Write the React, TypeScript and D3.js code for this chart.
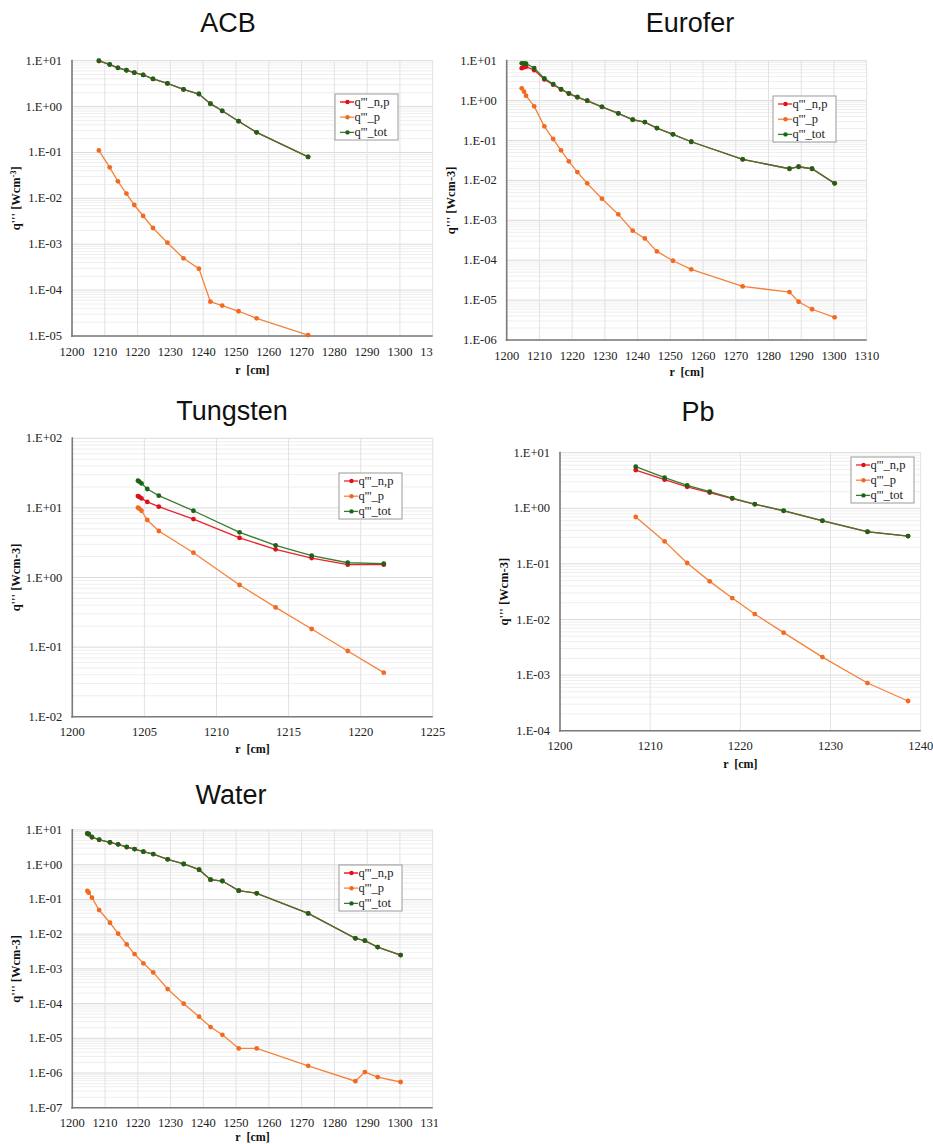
import React from "react";
import * as d3 from "d3";

// ---------------- DATA ----------------
// ACB
const acbR = [1208.2, 1211.5, 1214.0, 1216.6, 1219.0, 1221.7, 1224.7, 1229.1, 1234.0, 1238.7, 1242.2, 1245.8, 1250.8, 1256.3, 1272.0];
const acbNP = [9.85, 8.25, 6.98, 6.19, 5.49, 4.9, 4.0, 3.2, 2.37, 1.88, 1.16, 0.81, 0.48, 0.275, 0.08];
const acbP = [0.111, 0.0474, 0.0235, 0.0127, 0.00716, 0.00413, 0.00226, 0.00108, 0.000494, 0.000294, 5.6e-5, 4.6e-5, 3.46e-5, 2.43e-5, 1.05e-5];
const acbTot = [10.0, 8.3, 7.0, 6.2, 5.5, 4.9, 4.0, 3.2, 2.37, 1.88, 1.16, 0.81, 0.48, 0.275, 0.08];

// Eurofer
const eurR = [1204.6, 1205.3, 1205.9, 1208.4, 1211.5, 1214.2, 1216.6, 1219.0, 1221.6, 1224.6, 1229.1, 1234.1, 1238.5, 1242.2, 1245.9, 1250.8, 1256.4, 1272.1, 1286.4, 1289.2, 1293.3, 1300.2];
const eurNP = [6.5, 6.9, 7.1, 5.8, 3.4, 2.5, 1.9, 1.49, 1.21, 0.99, 0.7, 0.478, 0.331, 0.29, 0.205, 0.143, 0.093, 0.0337, 0.0196, 0.022, 0.0196, 0.00843];
const eurP = [2.03, 1.67, 1.33, 0.717, 0.226, 0.109, 0.0566, 0.03, 0.0162, 0.00843, 0.00348, 0.00141, 0.000548, 0.000352, 0.000166, 9.7e-5, 5.9e-5, 2.2e-5, 1.59e-5, 9.1e-6, 5.9e-6, 3.7e-6];
const eurTot = [8.6, 8.6, 8.4, 6.55, 3.6, 2.6, 1.95, 1.52, 1.23, 1.0, 0.7, 0.479, 0.332, 0.29, 0.205, 0.143, 0.093, 0.0337, 0.0196, 0.022, 0.0196, 0.00843];

// Tungsten
const tunR = [1204.55, 1204.65, 1204.8, 1205.2, 1206.0, 1208.4, 1211.6, 1214.1, 1216.6, 1219.1, 1221.6];
const tunNP = [14.8, 14.4, 13.7, 12.2, 10.4, 6.9, 3.7, 2.54, 1.9, 1.53, 1.53];
const tunP = [10.1, 9.76, 9.1, 6.7, 4.66, 2.27, 0.78, 0.372, 0.182, 0.0879, 0.0429];
const tunTot = [24.6, 23.8, 22.5, 18.7, 15.0, 9.1, 4.46, 2.9, 2.06, 1.63, 1.58];

// Pb
const pbR = [1208.4, 1211.6, 1214.1, 1216.6, 1219.1, 1221.6, 1224.8, 1229.1, 1234.1, 1238.6];
const pbNP = [4.88, 3.27, 2.44, 1.92, 1.5, 1.18, 0.9, 0.596, 0.378, 0.317];
const pbP = [0.697, 0.254, 0.1037, 0.0485, 0.0243, 0.01254, 0.0058, 0.00211, 0.00072, 0.000342];
const pbTot = [5.6, 3.55, 2.59, 1.99, 1.53, 1.19, 0.906, 0.598, 0.379, 0.317];

// Water
const watR = [1204.6, 1205.0, 1206.0, 1208.2, 1211.5, 1214.0, 1216.6, 1219.0, 1221.7, 1224.7, 1229.1, 1234.0, 1238.7, 1242.2, 1245.8, 1250.8, 1256.3, 1272.0, 1286.4, 1289.3, 1293.2, 1300.2];
const watNP = [7.8, 7.5, 6.17, 5.21, 4.39, 3.86, 3.23, 2.83, 2.38, 2.03, 1.43, 1.05, 0.72, 0.371, 0.339, 0.179, 0.15, 0.0396, 0.00755, 0.00647, 0.00425, 0.0025];
const watP = [0.175, 0.156, 0.112, 0.0495, 0.0213, 0.0103, 0.00507, 0.00267, 0.00144, 0.00079, 0.000262, 9.9e-5, 4.18e-5, 2.1e-5, 1.26e-5, 5.1e-6, 5.1e-6, 1.61e-6, 5.8e-7, 1.06e-6, 7.6e-7, 5.5e-7];
const watTot = [8.0, 7.67, 6.28, 5.26, 4.41, 3.87, 3.24, 2.83, 2.38, 2.03, 1.43, 1.05, 0.72, 0.371, 0.339, 0.179, 0.15, 0.0396, 0.00755, 0.00647, 0.00425, 0.0025];

const seriesNames = ["q'''_n,p", "q'''_p", "q'''_tot"];
const titles = ["ACB", "Eurofer", "Tungsten", "Pb", "Water"];

// ---------------- STYLE / LAYOUT ----------------
const lineColors = ["#e8222a", "#f5823a", "#3a7a30"];
const markerColors = ["#e01018", "#f26a22", "#1a6418"];
const serif = "'Liberation Serif', 'Times New Roman', serif";
const sans = "'Liberation Sans', Arial, sans-serif";

type Panel = {
  title: string;
  r: number[];
  np: number[];
  p: number[];
  tot: number[];
  left: number; top: number; right: number; bottom: number;
  xMin: number; xMax: number; xStep: number;
  eMin: number; eMax: number;
  legX: number; legY: number;
  titleX: number; titleY: number;
  sup: boolean;
  xTitleDy: number;
  clipX?: number;
};

const panels: Panel[] = [
  { title: titles[0], r: acbR, np: acbNP, p: acbP, tot: acbTot, left: 72, top: 60.7, right: 432.7, bottom: 336,
    xMin: 1200, xMax: 1310, xStep: 10, eMin: -5, eMax: 1, legX: 335, legY: 94, titleX: 228, titleY: 31.5, sup: true, xTitleDy: 37.5, clipX: 434 },
  { title: titles[1], r: eurR, np: eurNP, p: eurP, tot: eurTot, left: 506.7, top: 60.7, right: 866.7, bottom: 340,
    xMin: 1200, xMax: 1310, xStep: 10, eMin: -6, eMax: 1, legX: 773, legY: 96, titleX: 690, titleY: 31.5, sup: false, xTitleDy: 36 },
  { title: titles[2], r: tunR, np: tunNP, p: tunP, tot: tunTot, left: 72.3, top: 438.3, right: 432.8, bottom: 716.7,
    xMin: 1200, xMax: 1225, xStep: 5, eMin: -2, eMax: 2, legX: 339, legY: 473, titleX: 232, titleY: 420, sup: false, xTitleDy: 36 },
  { title: titles[3], r: pbR, np: pbNP, p: pbP, tot: pbTot, left: 560, top: 452.7, right: 920.7, bottom: 730.7,
    xMin: 1200, xMax: 1240, xStep: 10, eMin: -4, eMax: 1, legX: 851, legY: 457, titleX: 698, titleY: 421, sup: false, xTitleDy: 37 },
  { title: titles[4], r: watR, np: watNP, p: watP, tot: watTot, left: 72.3, top: 830, right: 432.7, bottom: 1107.7,
    xMin: 1200, xMax: 1310, xStep: 10, eMin: -7, eMax: 1, legX: 339, legY: 865, titleX: 231, titleY: 804, sup: false, xTitleDy: 33.5, clipX: 438 },
];

function fmtExp(e: number) {
  const s = String(Math.abs(e)).padStart(2, "0");
  return `1.E${e < 0 ? "-" : "+"}${s}`;
}

function PanelView({ pn, idx }: { pn: Panel; idx: number }) {
  const x = d3.scaleLinear().domain([pn.xMin, pn.xMax]).range([pn.left, pn.right]);
  const y = d3.scaleLog().domain([Math.pow(10, pn.eMin), Math.pow(10, pn.eMax)]).range([pn.bottom, pn.top]);
  const xTicks = d3.range(pn.xMin, pn.xMax + 0.001, pn.xStep);
  const decades = d3.range(pn.eMin, pn.eMax + 1);
  const minors: number[] = [];
  for (let e = pn.eMin; e < pn.eMax; e++) {
    for (let k = 2; k <= 9; k++) minors.push(k * Math.pow(10, e));
  }
  const line = d3.line<[number, number]>().x((d) => x(d[0])).y((d) => y(d[1]));
  const series = [pn.np, pn.p, pn.tot];
  const clipId = `clip${idx}`;
  const midY = (pn.top + pn.bottom) / 2;
  const midX = (pn.left + pn.right) / 2;
  return (
    <g clipPath={pn.clipX ? `url(#${clipId})` : undefined}>
      {pn.clipX && (
        <defs>
          <clipPath id={clipId}>
            <rect x={0} y={pn.top - 60} width={pn.clipX} height={pn.bottom - pn.top + 120} />
          </clipPath>
        </defs>
      )}
      <text x={pn.titleX} y={pn.titleY} textAnchor="middle" fontFamily={sans} fontSize={27} fill="#111">
        {pn.title}
      </text>
      {/* minor grid */}
      {minors.map((v, i) => (
        <line key={"m" + i} x1={pn.left} x2={pn.right} y1={y(v)} y2={y(v)} stroke="#efefef" strokeWidth={1} />
      ))}
      {decades.map((e) => (
        <line key={"d" + e} x1={pn.left} x2={pn.right} y1={y(Math.pow(10, e))} y2={y(Math.pow(10, e))} stroke="#dadada" strokeWidth={1} />
      ))}
      {xTicks.map((t) => (
        <line key={"v" + t} x1={x(t)} x2={x(t)} y1={pn.top} y2={pn.bottom} stroke="#e2e2e2" strokeWidth={1} />
      ))}
      {/* axes */}
      <line x1={pn.left} x2={pn.left} y1={pn.top - 1} y2={pn.bottom + 1} stroke="#7a7a7a" strokeWidth={1.6} />
      <line x1={pn.left - 1} x2={pn.right} y1={pn.bottom} y2={pn.bottom} stroke="#7a7a7a" strokeWidth={1.6} />
      {/* y tick labels */}
      {decades.map((e) => (
        <text key={"yl" + e} x={pn.left - 10} y={y(Math.pow(10, e)) + 4} textAnchor="end" fontFamily={serif} fontSize={12.5} fill="#222">
          {fmtExp(e)}
        </text>
      ))}
      {xTicks.map((t) => (
        <text key={"xl" + t} x={x(t)} y={pn.bottom + 19.5} textAnchor="middle" fontFamily={serif} fontSize={12.5} fill="#222">
          {t}
        </text>
      ))}
      {/* axis titles */}
      <text x={midX} y={pn.bottom + pn.xTitleDy} textAnchor="middle" fontFamily={serif} fontSize={12} fontWeight="bold" fill="#111" style={{ whiteSpace: "pre" }}>
        {"r  [cm]"}
      </text>
      <text
        transform={`translate(${pn.left - 52},${midY}) rotate(-90)`}
        textAnchor="middle"
        fontFamily={serif}
        fontSize={12.5}
        fontWeight="bold"
        fill="#111"
        style={{ whiteSpace: "pre" }}
      >
        {pn.sup ? (
          <>
            {"q''' [Wcm"}
            <tspan dy={-4} fontSize={8}>{"-3"}</tspan>
            <tspan dy={4}>{"]"}</tspan>
          </>
        ) : (
          "q''' [Wcm-3]"
        )}
      </text>
      {/* series */}
      {series.map((vals, si) => {
        const pts: [number, number][] = pn.r.map((r, i) => [r, vals[i]]);
        return (
          <g key={"s" + si}>
            <path d={line(pts) || ""} fill="none" stroke={lineColors[si]} strokeWidth={1.3} />
            {pts.map((d, i) => (
              <circle key={i} cx={x(d[0])} cy={y(d[1])} r={2.4} fill={markerColors[si]} />
            ))}
          </g>
        );
      })}
      {/* legend */}
      <rect x={pn.legX} y={pn.legY} width={63} height={46} fill="#fff" stroke="#9a9a9a" strokeWidth={1} />
      {seriesNames.map((nm, si) => {
        const ly = pn.legY + 8 + si * 15.2;
        return (
          <g key={"lg" + si}>
            <line x1={pn.legX + 5} x2={pn.legX + 19} y1={ly} y2={ly} stroke={lineColors[si]} strokeWidth={1.3} />
            <circle cx={pn.legX + 12.5} cy={ly} r={2.2} fill={markerColors[si]} />
            <text x={pn.legX + 19.5} y={ly + 4} fontFamily={serif} fontSize={12.5} fill="#222">
              {nm}
            </text>
          </g>
        );
      })}
    </g>
  );
}

export default function App() {
  return (
    <svg width={933} height={1144} style={{ display: "block", position: "absolute", left: 0, top: 0, background: "#fff" }}>
      <rect x={0} y={0} width={933} height={1144} fill="#fff" />
      {panels.map((pn, i) => (
        <PanelView key={i} pn={pn} idx={i} />
      ))}
    </svg>
  );
}
